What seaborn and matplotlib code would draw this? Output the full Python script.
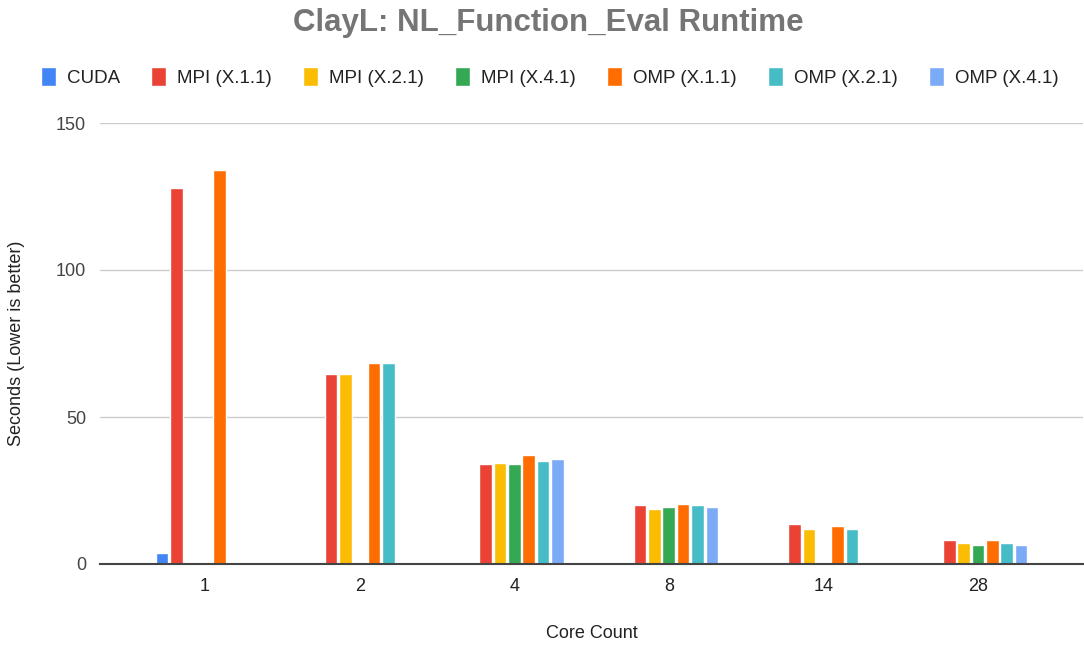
import numpy as np
import pandas as pd
import seaborn as sns
import matplotlib.pyplot as plt

# values (seconds)
cores = ["1", "2", "4", "8", "14", "28"]
series = ["CUDA", "MPI (X.1.1)", "MPI (X.2.1)", "MPI (X.4.1)",
          "OMP (X.1.1)", "OMP (X.2.1)", "OMP (X.4.1)"]
cuda = [3.6, np.nan, np.nan, np.nan, np.nan, np.nan]
mpi_x11 = [128.0, 64.6, 34.0, 20.1, 13.5, 8.2]
mpi_x21 = [np.nan, 64.6, 34.5, 18.8, 11.8, 7.0]
mpi_x41 = [np.nan, np.nan, 34.0, 19.4, np.nan, 6.5]
omp_x11 = [134.0, 68.3, 37.2, 20.4, 12.9, 8.2]
omp_x21 = [np.nan, 68.3, 34.9, 20.0, 11.8, 7.0]
omp_x41 = [np.nan, np.nan, 35.6, 19.3, np.nan, 6.5]
colors = ["#4285F4", "#EA4335", "#FBBC04", "#34A853", "#FF6D01", "#46BDC6", "#7BAAF7"]

values = [cuda, mpi_x11, mpi_x21, mpi_x41, omp_x11, omp_x21, omp_x41]
rows = []
for name, vals in zip(series, values):
    for c, v in zip(cores, vals):
        rows.append({"Core Count": c, "Series": name, "Seconds": v})
df = pd.DataFrame(rows)

sns.set_style("white")
plt.rcParams["font.family"] = ["Liberation Sans", "DejaVu Sans"]

fig = plt.figure(figsize=(10.84, 6.46), dpi=100)
ax = fig.add_axes([100 / 1084, 82 / 646, 983 / 1084, 441 / 646])

sns.barplot(data=df, x="Core Count", y="Seconds", hue="Series",
            order=cores, hue_order=series, palette=colors,
            width=0.65, gap=0.12, errorbar=None, saturation=1, ax=ax)

ax.set_xlim(-0.68, 5.68)
ax.set_ylim(0, 150)
ax.set_yticks([0, 50, 100, 150])
ax.yaxis.grid(True, color="#cccccc", linewidth=1)
ax.set_axisbelow(True)
for s in ["top", "right", "left"]:
    ax.spines[s].set_visible(False)
ax.spines["bottom"].set_color("#444444")
ax.spines["bottom"].set_linewidth(1.5)
ax.tick_params(axis="both", length=0, labelsize=13, colors="#222222", pad=10)
ax.tick_params(axis="y", colors="#444444")
ax.set_xlabel("Core Count", fontsize=13, color="#222222", labelpad=22)
ax.set_ylabel("Seconds (Lower is better)", fontsize=13, color="#222222", labelpad=22)

handles, labels = ax.get_legend_handles_labels()
ax.get_legend().remove()
fig.legend(handles, labels, loc="center", bbox_to_anchor=(0.507, 1 - 77 / 646),
           ncol=7, frameon=False, fontsize=13.5, handlelength=0.8, handleheight=1.2,
           handletextpad=0.6, columnspacing=1.65, labelcolor="#222222")

fig.suptitle("ClayL: NL_Function_Eval Runtime", x=0.506, y=1 - 23 / 646, va="center",
             fontsize=22.5, fontweight="bold", color="#757575")

fig.savefig("out.png", dpi=100)
